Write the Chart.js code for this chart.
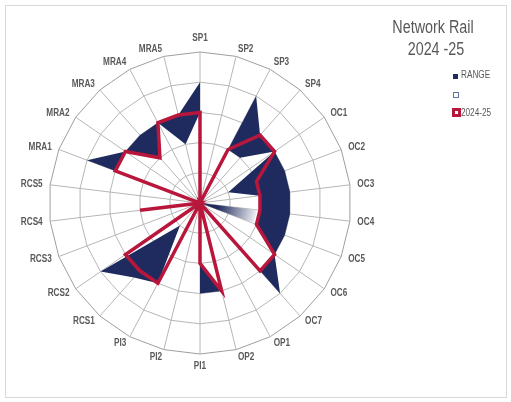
<!DOCTYPE html>
<html>
<head>
<meta charset="utf-8">
<script src="https://cdn.jsdelivr.net/npm/chart.js@4.4.1/dist/chart.umd.min.js"></script>
<style>
  html, body { margin:0; padding:0; background:#fff; }
  #wrap { position:relative; width:511px; height:402px; overflow:hidden; }
  #frame { position:absolute; left:5px; top:5px; width:502px; height:393px; box-sizing:border-box; border:1px solid #d9d9d9; }
  canvas { position:absolute; left:0; top:0; }
  .t { position:absolute; width:140px; text-align:center; font-family:'Liberation Sans', Arial, sans-serif; font-size:17.5px; line-height:20px; color:#595959; transform:scaleX(0.82); transform-origin:50% 50%; white-space:nowrap; }
  .lt { position:absolute; font-family:'Liberation Sans', Arial, sans-serif; font-size:10px; line-height:12px; color:#595959; transform:scaleX(0.82); transform-origin:0 50%; white-space:nowrap; }
  .sq { position:absolute; box-sizing:border-box; }
</style>
</head>
<body>
<div id="wrap">
  <div id="frame"></div>
  <canvas id="c" width="511" height="402"></canvas>
  <div class="t" style="left:363px; top:17px;">Network Rail</div>
  <div class="t" style="left:365.5px; top:39px;">2024 -25</div>
  <div class="sq" style="left:453px; top:74px; width:5px; height:5px; background:#1f2b5e;"></div>
  <div class="lt" style="left:461px; top:69px;">RANGE</div>
  <div class="sq" style="left:453px; top:92px; width:6px; height:6px; border:1px solid #6574a6; background:#fff;"></div>
  <div class="sq" style="left:452px; top:108px; width:9px; height:9px; border:3px solid #b9163c; background:#fff;"></div>
  <div class="lt" style="left:461px; top:107px;">2024-25</div>
</div>
<script>
// ---- data ----
const categories = ['SP1','SP2','SP3','SP4','OC1','OC2','OC3','OC4','OC5','OC6','OC7','OP1','OP2','PI1','PI2','PI3','RCS1','RCS2','RCS3','RCS4','RCS5','MRA1','MRA2','MRA3','MRA4','MRA5'];
const rangeMax = [4,0,4,3,3,3,3,3,3,3,4,0,3,3,0,3,3.3,4,0,2,0,4,3,3,3,3];
const rangeMin = [3,0,2,2,3,1,2,2,2,3,3,0,3,2,0,3,1,4,0,2,0,3,3,2,3,2];
const year2425 = [3,0,2,3,3,2,2,2,2,3,3,0,3,2,0,3,3,3,0,2,0,3,3,2,3,3];
const shadeWedge = [0,0,0,0,0,0,0,1.9,1.9,0,0,0,0,0,0,0,0,0,0,0,0,0,0,0,0,0];
const scaleTicks = [0,1,2,3,4,5];

const NAVY = '#1f2b5e';
const RED = '#b9163c';

const labelPlugin = {
  id: 'catLabels',
  afterDraw(chart) {
    const s = chart.scales.r;
    const ctx = chart.ctx;
    const n = categories.length;
    ctx.save();
    ctx.fillStyle = '#595959';
    ctx.font = 'bold 10px "Liberation Sans", Arial, sans-serif';
    for (let i = 0; i < n; i++) {
      const p = s.getPointPosition(i, s.drawingArea + 7.5);
      const deg = i * 360 / n;
      let align, base, y = p.y;
      if (i === 0) { align = 'center'; base = 'alphabetic'; y = p.y - 4; }
      else if (Math.abs(deg - 180) < 0.01) { align = 'center'; base = 'top'; }
      else { align = deg < 180 ? 'left' : 'right'; base = 'middle'; }
      ctx.save();
      ctx.translate(p.x, y);
      ctx.scale(0.82, 1);
      ctx.textAlign = align;
      ctx.textBaseline = base;
      ctx.fillText(categories[i], 0, 0);
      ctx.restore();
    }
    ctx.restore();
  }
};

const chart = new Chart(document.getElementById('c'), {
  type: 'radar',
  data: {
    labels: categories,
    datasets: [
      { label: 'RANGE', data: rangeMax, backgroundColor: NAVY, borderColor: 'rgba(0,0,0,0)', borderWidth: 0, pointRadius: 0, fill: 1, order: 3 },
      { label: '', data: rangeMin, backgroundColor: 'rgba(0,0,0,0)', borderColor: 'rgba(0,0,0,0)', borderWidth: 0, pointRadius: 0, fill: false, order: 4 },
      { label: '2024-25', data: year2425, borderColor: RED, borderWidth: 3.5, borderJoinStyle: 'miter', backgroundColor: 'rgba(0,0,0,0)', pointRadius: 0, fill: false, order: 1 },
      { label: 'shade', data: shadeWedge, borderWidth: 0, borderColor: 'rgba(0,0,0,0)', pointRadius: 0, fill: 'origin', order: 2,
        backgroundColor: (c) => {
          const ch = c.chart; const s = ch.scales && ch.scales.r;
          if (!s || !ch.chartArea || s.xCenter === undefined) return 'rgba(31,43,94,0.3)';
          const rr = s.getDistanceFromCenterForValue(2);
          const g = ch.ctx.createRadialGradient(s.xCenter, s.yCenter, 0, s.xCenter, s.yCenter, rr);
          g.addColorStop(0, NAVY);
          g.addColorStop(0.3, NAVY);
          g.addColorStop(1, '#ffffff');
          return g;
        } }
    ]
  },
  options: {
    responsive: false,
    animation: false,
    layout: { padding: { left: 49, top: 52, right: 160, bottom: 48 } },
    plugins: { legend: { display: false }, tooltip: { enabled: false }, title: { display: false } },
    elements: { line: { tension: 0 } },
    scales: {
      r: {
        min: scaleTicks[0], max: scaleTicks[scaleTicks.length - 1],
        ticks: { display: false, stepSize: 1 },
        grid: { color: (c) => c.index === 5 ? '#9e9e9e' : '#b6b6b6', lineWidth: 1 },
        angleLines: { color: '#b6b6b6', lineWidth: 1 },
        pointLabels: { display: false }
      }
    }
  },
  plugins: [labelPlugin]
});
</script>
</body>
</html>
